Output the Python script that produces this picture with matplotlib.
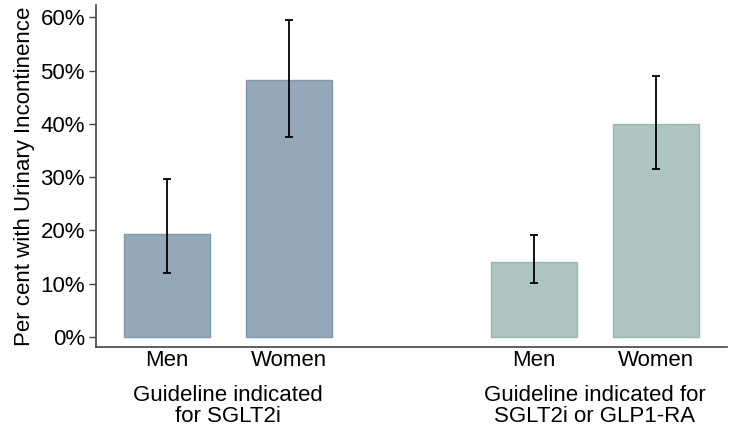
import matplotlib
matplotlib.use("Agg")
import matplotlib.pyplot as plt
from matplotlib.ticker import FuncFormatter

plt.rcParams['font.family'] = ['Liberation Sans', 'DejaVu Sans']

groups = ["Guideline indicated\nfor SGLT2i", "Guideline indicated for\nSGLT2i or GLP1-RA"]
sexes = ["Men", "Women", "Men", "Women"]
values = [19.3, 48.3, 14.0, 39.9]
ci_low = [11.9, 37.5, 10.1, 31.6]
ci_high = [29.7, 59.5, 19.1, 49.0]
positions = [1, 2, 4, 5]
colors = ["#95A8BA", "#95A8BA", "#ADC5C1", "#ADC5C1"]
edges = ["#8498AB", "#8498AB", "#9CB7B2", "#9CB7B2"]

fig = plt.figure(figsize=(7.35, 4.33), dpi=100)
ax = fig.add_axes([96/735, 1 - 347/433, (727-96)/735, (347-5)/433])

yerr = [[v - l for v, l in zip(values, ci_low)], [h - v for v, h in zip(values, ci_high)]]
ax.bar(positions, values, width=0.7, color=colors, edgecolor=edges, linewidth=1)
ax.errorbar(positions, values, yerr=yerr, fmt='none', ecolor='black', elinewidth=1.3, capsize=3, capthick=1.3)

ax.set_xlim(0.42, 5.58)
ax.set_ylim(-1.9, 62.3)
ax.set_yticks([0, 10, 20, 30, 40, 50, 60])
ax.yaxis.set_major_formatter(FuncFormatter(lambda v, p: f"{int(v)}%"))
ax.set_xticks(positions)
ax.set_xticklabels(sexes)
ax.tick_params(axis='x', length=0, labelsize=16, pad=2)
ax.tick_params(axis='y', length=5, labelsize=16, color='#444444', width=1, pad=3)
for s in ['top', 'right']:
    ax.spines[s].set_visible(False)
for s in ['left', 'bottom']:
    ax.spines[s].set_color('#444444')
    ax.spines[s].set_linewidth(1.2)
ax.set_ylabel("Per cent with Urinary Incontinence", fontsize=16, labelpad=4)

for i, g in enumerate(groups):
    xc = (positions[2*i] + positions[2*i+1]) / 2
    ax.text(xc, -0.11, g, transform=ax.get_xaxis_transform(), ha='center', va='top',
            fontsize=16, linespacing=1.0)

fig.savefig("out.png", dpi=100)
